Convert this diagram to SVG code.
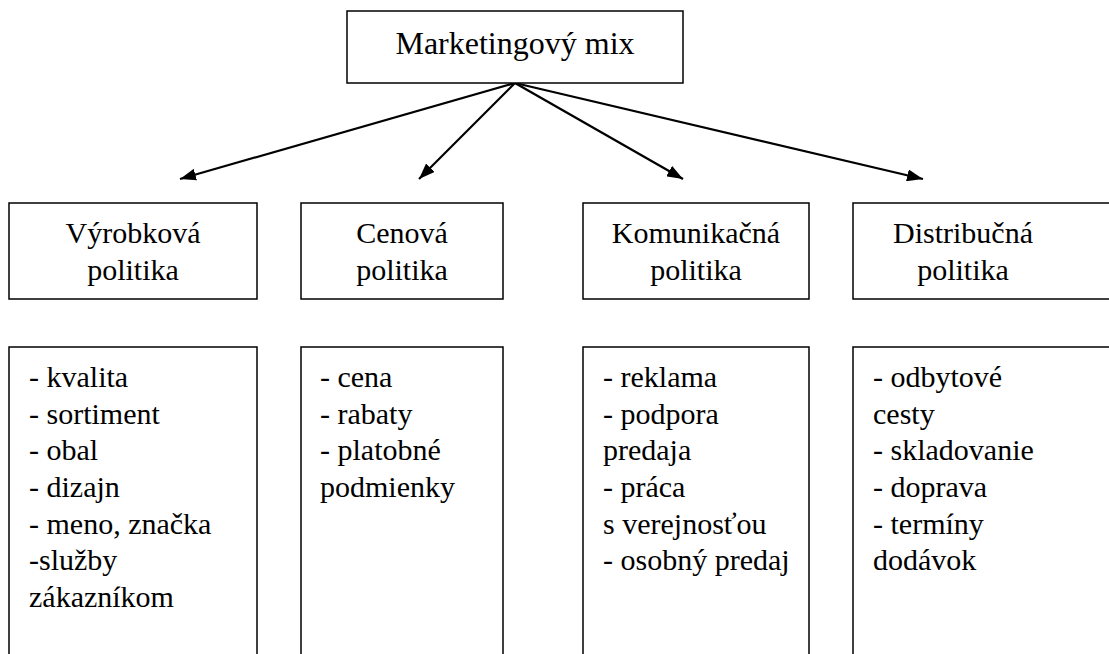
<svg xmlns="http://www.w3.org/2000/svg" width="1109" height="654" viewBox="0 0 1109 654">
<defs>
<marker id="ah" markerWidth="16" markerHeight="12" refX="16" refY="6" orient="auto" markerUnits="userSpaceOnUse">
<path d="M0,0 L16,6 L0,12 Z" fill="#000"/>
</marker>
<style>
.box{fill:#fff;stroke:#000;stroke-width:1.5}
.t{font-size:30px;fill:#000}
.c{text-anchor:middle}
.title{font-size:32px}
.conn{stroke:#000;stroke-width:2.2;fill:none;marker-end:url(#ah)}
</style>
</defs>
<rect width="1109" height="654" fill="#fff"/>
<g id="connectors">
<line class="conn" x1="515" y1="83" x2="180" y2="179"/>
<line class="conn" x1="515" y1="83" x2="419" y2="179"/>
<line class="conn" x1="515" y1="83" x2="683" y2="179"/>
<line class="conn" x1="515" y1="83" x2="923" y2="179"/>
</g>
<g font-family="Liberation Serif, DejaVu Serif, serif">
<g id="mix">
<rect class="box" x="347" y="11" width="336" height="72"/>
<text class="t c title" x="515" y="54">Marketingový mix</text>
</g>
<g id="vyrobkova">
<rect class="box" x="9" y="203" width="248" height="96"/>
<text class="t c" x="133" y="243">Výrobková</text>
<text class="t c" x="133" y="280">politika</text>
</g>
<g id="cenova">
<rect class="box" x="301" y="203" width="202" height="96"/>
<text class="t c" x="402" y="243">Cenová</text>
<text class="t c" x="402" y="280">politika</text>
</g>
<g id="komunikacna">
<rect class="box" x="583" y="203" width="226" height="96"/>
<text class="t c" x="696" y="243">Komunikačná</text>
<text class="t c" x="696" y="280">politika</text>
</g>
<g id="distribucna">
<rect class="box" x="853" y="203" width="270" height="96"/>
<text class="t c" x="963" y="243">Distribučná</text>
<text class="t c" x="963" y="280">politika</text>
</g>
<g id="vyrobkova-list">
<rect class="box" x="9" y="347" width="248" height="320"/>
<text class="t" x="29" y="387">- kvalita</text>
<text class="t" x="29" y="424">- sortiment</text>
<text class="t" x="29" y="460">- obal</text>
<text class="t" x="29" y="497">- dizajn</text>
<text class="t" x="29" y="534">- meno, značka</text>
<text class="t" x="29" y="570">-služby</text>
<text class="t" x="29" y="607">zákazníkom</text>
</g>
<g id="cenova-list">
<rect class="box" x="301" y="347" width="202" height="320"/>
<text class="t" x="320" y="387">- cena</text>
<text class="t" x="320" y="424">- rabaty</text>
<text class="t" x="320" y="460">- platobné</text>
<text class="t" x="320" y="497">podmienky</text>
</g>
<g id="komunikacna-list">
<rect class="box" x="583" y="347" width="226" height="320"/>
<text class="t" x="603" y="387">- reklama</text>
<text class="t" x="603" y="424">- podpora</text>
<text class="t" x="603" y="460">predaja</text>
<text class="t" x="603" y="497">- práca</text>
<text class="t" x="603" y="534">s verejnosťou</text>
<text class="t" x="603" y="570">- osobný predaj</text>
</g>
<g id="distribucna-list">
<rect class="box" x="853" y="347" width="270" height="320"/>
<text class="t" x="873" y="387">- odbytové</text>
<text class="t" x="873" y="424">cesty</text>
<text class="t" x="873" y="460">- skladovanie</text>
<text class="t" x="873" y="497">- doprava</text>
<text class="t" x="873" y="534">- termíny</text>
<text class="t" x="873" y="570">dodávok</text>
</g>
</g>
</svg>
